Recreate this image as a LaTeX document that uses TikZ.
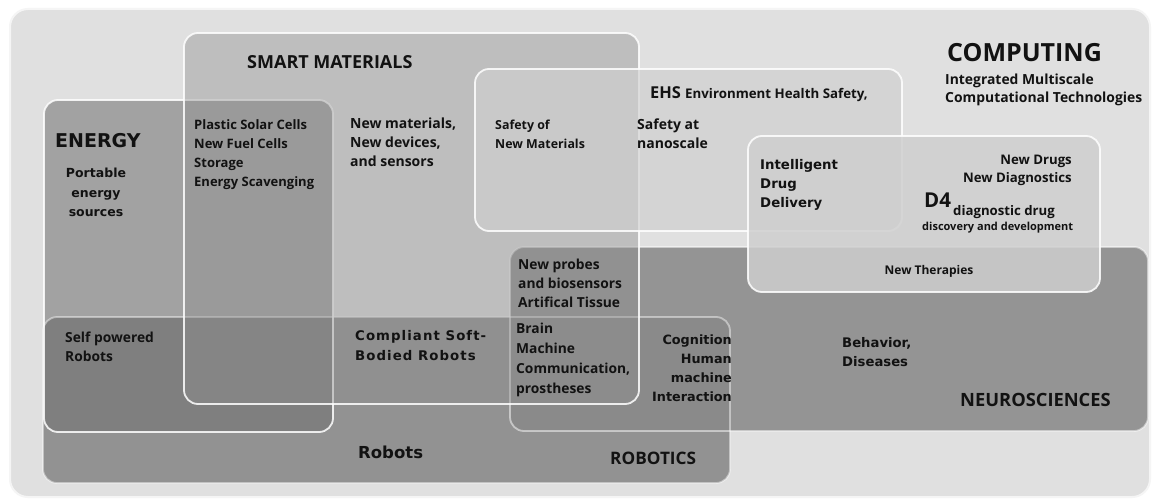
\documentclass[tikz,border=0pt]{standalone}
\usepackage{fontspec}
\setmainfont{Open Sans}
\newfontfamily\vfont{DejaVu Sans}
\newfontfamily\vsfont[LetterSpace=8]{DejaVu Sans}
\definecolor{bgc}{gray}{0.88}
\definecolor{txt}{gray}{0.07}
\newcommand{\fs}[2]{\fontsize{#1}{#2}\selectfont}
\tikzset{
  region/.style={draw=white, line width=1.8pt, draw opacity=0.85, rounded corners=14pt},
  lbl/.style={inner sep=0pt, text=txt, align=left},
  os/.style={lbl, font=\bfseries\fs{#1}{19}},
  ver/.style={lbl, font=\vfont\bfseries\fs{#1}{19}},
}
\begin{document}
\begin{tikzpicture}[x=1pt,y=-1pt]
\useasboundingbox (0,0) rectangle (1155,500);
% computing background
\fill[white] (0,0) rectangle (1155,500);
\draw[fill=bgc, draw=white!96!black, line width=2pt, rounded corners=18pt] (10,9) rectangle (1150,497);
% robotics
\fill[rounded corners=14pt, fill={rgb,1:red,0.37;green,0.37;blue,0.37}, fill opacity=0.6] (43,317) rectangle (730,483);
% energy
\fill[rounded corners=14pt, fill={rgb,1:red,0.44;green,0.44;blue,0.44}, fill opacity=0.55] (44,100) rectangle (333,432);
\draw[region] (44,100) rectangle (333,432);
% neurosciences
\fill[rounded corners=14pt, fill={rgb,1:red,0.54;green,0.54;blue,0.54}, fill opacity=0.88] (510,247) rectangle (1148,431);
\draw[region, draw opacity=0.5] (510,247) rectangle (1148,431);
\draw[region, draw opacity=0.45] (43,317) rectangle (730,483);
% smart materials
\fill[rounded corners=14pt, fill={rgb,1:red,0.56;green,0.56;blue,0.56}, fill opacity=0.42] (184,33) rectangle (639,404);
\draw[region] (184,33) rectangle (639,404);
% EHS
\fill[rounded corners=14pt, fill={rgb,1:red,0.81;green,0.81;blue,0.81}, fill opacity=0.65] (475,69) rectangle (902,231);
\draw[region] (475,69) rectangle (902,231);
% D4
\fill[rounded corners=14pt, fill={rgb,1:red,0.81;green,0.81;blue,0.81}, fill opacity=0.84] (748,136) rectangle (1100,292);
\draw[region] (748,136) rectangle (1100,292);

% labels
\node[os=18, anchor=west] (sm) at (247,62) {SMART MATERIALS};
\node[ver=19, anchor=west] (en) at (55,141) {ENERGY};
\node[lbl, anchor=north, align=center, font=\vfont\bfseries\fs{12.5}{19.5}] (port) at (96,168) {Portable\\energy\\sources};
\node[os=13, anchor=west] (plast) at (194,154.5) {Plastic Solar Cells\\New Fuel Cells\\Storage\\Energy Scavenging};
\node[os=14, anchor=west] (nm) at (350,142.5) {New materials,\\New devices,\\and sensors};
\node[os=12.4, anchor=west] (sonm) at (495,134) {Safety of\\New Materials};
\node[os=14, anchor=west] (san) at (637,134) {Safety at\\nanoscale};
\node[lbl, anchor=west] (ehs) at (650,94) {\bfseries\fs{16.4}{19}EHS \fs{13.3}{19}Environment Health Safety,};
\node[os=25, anchor=west] (comp) at (947,53) {COMPUTING};
\node[lbl, anchor=west, font=\bfseries\fs{13.9}{18}] (imc) at (945,89.5) {Integrated Multiscale\\Computational Technologies};
\node[ver=13.3, anchor=west] (idd) at (760,185) {Intelligent\\Drug\\Delivery};
\node[lbl, anchor=east, align=right, font=\bfseries\fs{13.2}{17.5}] (nd) at (1072,170.5) {New Drugs\\New Diagnostics};
\node[os=20.5, anchor=west] (d4) at (924,200) {D4};
\node[os=13.2, anchor=west] (ddd) at (953,212) {diagnostic drug};
\node[os=11, anchor=west] (dad) at (922,228) {discovery and development};
\node[os=12, anchor=center] (nt) at (929,271) {New Therapies};
\node[os=13.8, anchor=west] (npb) at (518,283) {New probes\\and biosensors\\Artifical Tissue};
\node[lbl, anchor=west, font=\bfseries\fs{13.8}{20}] (bmc) at (516,360) {Brain\\Machine\\Communication,\\prostheses};
\node[lbl, anchor=west, font=\vsfont\bfseries\fs{13.3}{20}] (csb) at (355,346) {Compliant Soft-\\Bodied Robots};
\node[os=13.8, anchor=west] (spr) at (65,346.5) {Self powered\\Robots};
\node[ver=12.8, anchor=east, align=right] (chm) at (732,368) {Cognition\\Human\\machine\\Interaction};
\node[ver=16.5, anchor=west] (rob) at (358,452) {Robots};
\node[os=17.2, anchor=west] (robo) at (610,458) {ROBOTICS};
\node[ver=13.2, anchor=west] (bd) at (842,352) {Behavior,\\Diseases};
\node[os=18.3, anchor=west] (neu) at (960,400) {NEUROSCIENCES};
\end{tikzpicture}
\end{document}
